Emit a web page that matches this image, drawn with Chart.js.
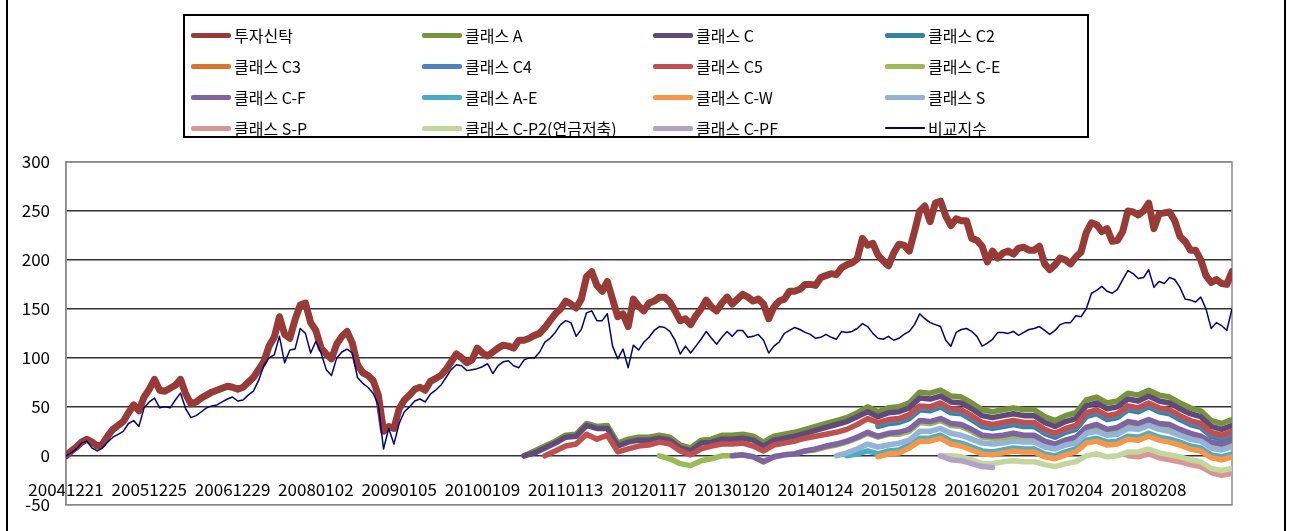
<!DOCTYPE html>
<html><head><meta charset="utf-8">
<script src="https://cdn.jsdelivr.net/npm/chart.js@4.4.0/dist/chart.umd.min.js"></script>
<style>
html,body{margin:0;padding:0;background:#fff;}
#wrap{position:relative;width:1295px;height:531px;overflow:hidden;background:#fff;}
#c{position:absolute;left:0;top:0;}
#legend{position:absolute;left:183px;top:14px;width:902px;height:120px;border:2px solid #000;font-family:"Noto Sans CJK KR","Noto Sans",sans-serif;font-size:16px;color:#000;}
.item{position:absolute;display:flex;align-items:center;height:22px;white-space:nowrap;}
.swatch{width:40px;margin-right:3px;border-radius:2px;}
.edge{position:absolute;top:0;width:2px;height:531px;background:#000;}
</style></head>
<body><div id="wrap">
<canvas id="c" width="1295" height="531"></canvas>
<div class="edge" style="left:6px"></div>
<div class="edge" style="left:1284px"></div>
<div id="legend"></div>
</div>
<script>
// x tick labels (one per label interval)
const tickLabels = ["20041221","20051225","20061229","20080102","20090105","20100109","20110113","20120117","20130120","20140124","20150128","20160201","20170204","20180208"];

// 투자신탁 (sampled every 1/16 label interval)
const fundValues = [0,5,9,14,17,14,10,12,20,27,
31,35,44,52,46,60,68,78,67,66,
69,72,78,63,53,55,59,62,65,67,
69,71,70,68,70,75,80,88,96,112,
121,142,124,120,139,154,156,136,128,110,
104,99,114,122,127,115,93,85,82,77,
62,25,30,28,48,57,62,68,70,67,
76,79,82,88,96,104,100,95,98,110,
105,102,106,110,113,112,110,118,118,120,
123,125,131,138,145,150,158,155,151,160,
183,188,174,168,178,160,142,145,132,160,
153,148,156,158,162,162,157,148,138,140,
134,143,150,159,152,148,156,162,155,160,
165,162,158,160,155,140,152,158,160,168,
168,170,175,175,174,182,184,186,185,192,
195,197,201,222,215,217,205,199,194,207,
216,215,209,229,250,255,239,258,260,245,
235,242,240,240,222,220,214,198,209,202,
207,209,206,212,213,210,210,214,196,190,
195,202,200,196,203,208,228,238,236,229,
232,219,220,229,250,249,246,250,258,232,
247,248,249,240,224,219,210,210,200,184,
177,180,176,175,188];

// 비교지수 (same sampling)
const benchValues = [0,3,7,13,15,8,5,8,14,19,
22,25,33,36,30,49,55,59,49,50,
49,57,64,48,39,41,45,49,51,52,
55,58,60,56,57,62,66,77,92,100,
103,122,95,108,109,130,125,105,117,105,
88,82,100,106,109,105,80,74,70,64,
52,7,28,12,33,45,50,56,58,55,
63,67,72,80,88,93,92,87,88,89,
91,94,84,92,96,97,92,90,98,100,
100,106,116,120,126,134,138,136,122,129,
146,148,138,138,145,112,99,109,90,113,
108,116,121,128,132,131,127,118,104,112,
105,112,119,127,120,114,121,127,122,128,
128,121,122,124,118,105,112,116,125,128,
131,129,126,124,120,121,124,121,119,127,
126,127,130,135,132,125,120,119,122,118,
120,124,127,134,145,140,136,134,132,118,
112,126,129,130,127,122,112,115,119,126,
126,125,127,123,126,129,130,132,128,124,
128,134,136,136,143,142,150,166,169,173,
168,166,170,180,189,186,181,182,190,172,
178,176,182,180,172,160,159,157,162,150,
130,136,133,128,150];

// Class series (sampled every 1/8 label interval, starting at the given step)
const classAStart = 44;
const classA = [0,5,10,15,21,22,33,30,31,13,17,19,19,21,19,11,8,16,17,21,21,22,20,14,20,22,24,27,30,33,36,39,44,50,45,49,50,54,65,64,67,61,60,54,47,45,47,49,47,47,40,36,41,44,57,60,54,56,64,62,67,62,60,54,49,46,36,33,37];
const classCStart = 44;
const classC = [0,3,8,13,19,20,31,28,28,10,14,16,16,18,16,8,5,13,14,17,17,18,16,10,16,18,20,23,26,29,32,35,40,45,40,44,45,49,59,58,61,55,54,48,41,39,41,43,41,41,34,30,35,38,51,54,48,50,58,56,61,56,54,48,43,40,30,27,31];
const classC2Start = 78;
const classC2 = [30,33,34,38,47,46,50,44,43,37,30,28,30,32,30,30,23,19,24,27,40,43,37,39,47,45,50,45,43,37,32,29,20,17,21];
const classC3Start = 80;
const classC3 = [4,9,16,16,19,13,11,7,3,2,4,6,5,5,0,-2,2,5,14,16,12,13,18,17,21,17,15,12,8,6,-1,-3,0];
const classC4Start = 78;
const classC4 = [32,35,36,40,49,48,52,46,45,39,32,30,32,34,32,32,25,21,26,29,42,45,39,41,49,47,52,47,45,39,34,31,22,19,23];
const classC5Start = 46;
const classC5 = [0,5,10,12,22,17,21,4,7,10,11,14,12,5,1,7,10,12,12,13,10,5,11,13,15,18,20,22,24,27,32,38,34,37,38,42,51,50,54,48,47,41,34,32,34,36,34,34,27,23,28,31,44,47,41,43,51,49,54,49,47,41,36,33,24,21,25];
const classCEStart = 57;
const classCE = [0,-3,-8,-10,-5,-3,0,0,1,-1,-6,-1,1,2,5,6,9,11,14,18,23,19,22,22,25,34,33,36,31,30,25,19,18,18,20,18,18,12,9,13,16,26,29,23,25,31,29,33,29,28,23,19,16,9,7,11];
const classCFStart = 64;
const classCF = [0,1,-1,-6,-1,1,2,5,7,10,12,15,19,24,20,23,24,27,36,35,38,33,32,27,21,20,21,23,21,21,15,12,16,19,29,32,27,29,35,33,37,33,32,27,23,20,14,12,16];
const classAEStart = 75;
const classAE = [0,2,5,2,5,6,11,18,18,21,15,13,9,5,4,6,8,7,7,2,0,4,7,16,18,14,15,20,19,23,19,17,14,10,8,1,-1,2];
const classCWStart = 78;
const classCW = [-1,2,3,8,15,15,18,12,10,6,2,1,3,5,4,4,-1,-3,1,4,13,15,11,12,17,16,20,16,14,11,7,5,-2,-4,-1];
const classSStart = 74;
const classS = [0,3,7,12,9,11,13,16,25,25,28,23,21,17,13,12,13,15,14,14,9,7,11,13,23,25,21,22,28,27,31,27,25,21,17,15,8,6,9];
const classSPStart = 102;
const classSP = [0,-1,2,-2,-4,-6,-9,-11,-17,-20,-18];
const classCP2Start = 84;
const classCP2 = [0,0,-1,-4,-8,-8,-6,-5,-6,-6,-9,-11,-8,-6,0,2,-1,0,4,4,7,3,1,-1,-4,-6,-13,-15,-13];
const classCPFStart = 84;
const classCPF = [0,-4,-5,-8,-11,-12];

const seriesNames = ["투자신탁","클래스 A","클래스 C","클래스 C2","클래스 C3","클래스 C4","클래스 C5","클래스 C-E","클래스 C-F","클래스 A-E","클래스 C-W","클래스 S","클래스 S-P","클래스 C-P2(연금저축)","클래스 C-PF","비교지수"];
const seriesColors = ["#983A36","#77933C","#604A7B","#31859C","#D9752C","#4F81BD","#C0504D","#9BBB59","#8064A2","#4BACC6","#F79646","#95B3D7","#D99694","#C3D69B","#B3A2C7","#000080"];

const classData = [
  [classA, classAStart],[classC, classCStart],[classC2, classC2Start],[classC3, classC3Start],
  [classC4, classC4Start],[classC5, classC5Start],[classCE, classCEStart],[classCF, classCFStart],
  [classAE, classAEStart],[classCW, classCWStart],[classS, classSStart],[classSP, classSPStart],
  [classCP2, classCP2Start],[classCPF, classCPFStart]
];

const pts16 = arr => arr.map((v,i)=>({x:i/16, y:v}));
const pts8 = (arr,s) => arr.map((v,i)=>({x:(s+i)/8, y:v}));

const datasets = [];
datasets.push({label:seriesNames[0], data:pts16(fundValues), borderColor:seriesColors[0], borderWidth:7, order:0});
classData.forEach((cd,k)=>{
  datasets.push({label:seriesNames[k+1], data:pts8(cd[0],cd[1]), borderColor:seriesColors[k+1], borderWidth:5.5, order:-(k+1)});
});
datasets.push({label:seriesNames[15], data:pts16(benchValues), borderColor:seriesColors[15], borderWidth:1.5, order:-15});
datasets.forEach(d=>{d.pointRadius=0; d.tension=0; d.fill=false; d.borderJoinStyle='round'; d.borderCapStyle='round';});

// HTML legend
const lg = document.getElementById('legend');
const colX = [6,237,468,700], rowY = [8,39,70,101];
seriesNames.forEach((n,i)=>{
  const it = document.createElement('div');
  it.className='item';
  it.style.left = colX[i%4]+'px';
  it.style.top = rowY[Math.floor(i/4)]+'px';
  const sw = document.createElement('div');
  sw.className='swatch';
  sw.style.background = seriesColors[i];
  sw.style.height = (i===15?2:5)+'px';
  const tx = document.createElement('span');
  tx.textContent = n;
  it.appendChild(sw); it.appendChild(tx);
  lg.appendChild(it);
});

const boxPlugin = {
  id:'box',
  beforeDatasetsDraw(chart){
    const a = chart.chartArea, ctx = chart.ctx;
    ctx.save();
    ctx.strokeStyle = '#8c8c8c';
    ctx.lineWidth = 1.5;
    ctx.strokeRect(a.left, a.top, a.right-a.left, a.bottom-a.top);
    ctx.restore();
  }
};

const fontFam = '"Noto Sans CJK KR","Noto Sans",sans-serif';
new Chart(document.getElementById('c'), {
  type:'line',
  data:{datasets},
  plugins:[boxPlugin],
  options:{
    responsive:false, animation:false,
    layout:{padding:{left:0, top:162, right:63, bottom:19}},
    plugins:{legend:{display:false}, tooltip:{enabled:false}},
    scales:{
      x:{type:'linear', position:{y:0}, min:0, max:14,
        grid:{display:false}, border:{display:false},
        ticks:{stepSize:1, autoSkip:false, maxRotation:0, padding:16, color:'#000',
          font:{family:fontFam, size:17},
          callback:v=> (tickLabels[v] !== undefined ? tickLabels[v] : '')}
      },
      y:{min:-50, max:300,
        afterFit(s){ s.width = 66; },
        grid:{drawTicks:false, lineWidth:1.5,
          color:c=> (c.tick && (c.tick.value===300 || c.tick.value===-50)) ? '#8c8c8c' : '#333'},
        border:{display:true, color:'#8c8c8c', width:1.5},
        ticks:{stepSize:50, padding:16, color:'#000', font:{family:fontFam, size:17}}
      }
    }
  }
});
</script>
</body></html>
